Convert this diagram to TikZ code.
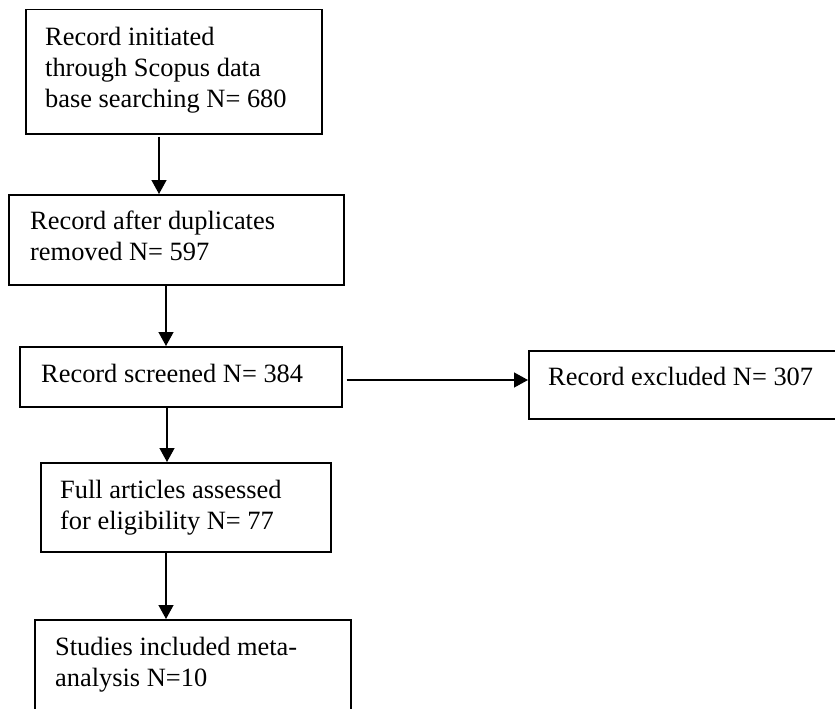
\documentclass[tikz,border=0pt]{standalone}
\usepackage{fontspec}
\setmainfont{Liberation Serif}
\usetikzlibrary{arrows.meta}
\begin{document}
\begin{tikzpicture}[x=1pt,y=-1pt,
  boxstyle/.style={draw=black,line width=1.5pt,inner sep=0pt,fill=none},
  txt/.style={anchor=base west,inner sep=0pt,font=\fontsize{26.4}{30.8}\selectfont,align=left},
  arr/.style={line width=1.3pt,-{Triangle[length=14pt,width=15pt]}}]
\useasboundingbox (0,0) rectangle (835,709);
\clip (0,0) rectangle (835,709);
% boxes
\node[boxstyle,anchor=north west,minimum width=296pt,minimum height=124pt] (b1) at (25,9) {};
\node[boxstyle,anchor=north west,minimum width=335pt,minimum height=90pt] (b2) at (8,194) {};
\node[boxstyle,anchor=north west,minimum width=322pt,minimum height=60pt] (b3) at (19,346) {};
\node[boxstyle,anchor=north west,minimum width=320pt,minimum height=68pt] (bx) at (528,350) {};
\node[boxstyle,anchor=north west,minimum width=290pt,minimum height=89pt] (b4) at (40,462) {};
\node[boxstyle,anchor=north west,minimum width=316pt,minimum height=100pt] (b5) at (34,619) {};
% texts (base = baseline of the last line)
\node[txt] (t1) at (45,107) {Record initiated\\through Scopus data\\base searching N= 680};
\node[txt] (t2) at (30,260) {Record after duplicates\\removed N= 597};
\node[txt] (t3) at (41,382) {Record screened N= 384};
\node[txt] (tx) at (548,385) {Record excluded N= 307};
\node[txt] (t4) at (60,529) {Full articles assessed\\for eligibility N= 77};
\node[txt] (t5) at (55,686) {Studies included meta-\\analysis N=10};
% connectors
\coordinate (c1) at (159,0);
\coordinate (c2) at (166,0);
\coordinate (c3) at (167,0);
\coordinate (c4) at (166,0);
\draw[arr,shorten <=2pt] (b1.south -| c1) -- (b2.north -| c1);
\draw[arr] (b2.south -| c2) -- (b3.north -| c2);
\draw[arr] (b3.south -| c3) -- (b4.north -| c3);
\draw[arr] (b4.south -| c4) -- (b5.north -| c4);
\coordinate (h) at (0,380);
\draw[arr,shorten <=4pt] (b3.east |- h) -- (bx.west |- h);
\end{tikzpicture}
\end{document}
